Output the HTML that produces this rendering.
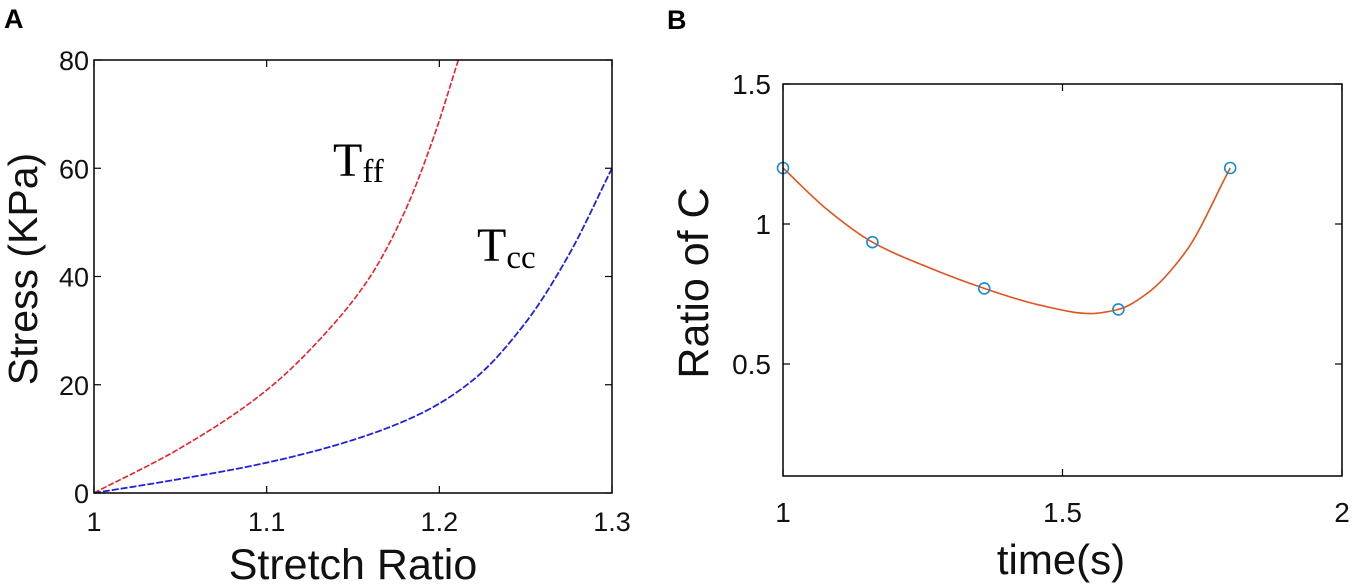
<!DOCTYPE html>
<html><head><meta charset="utf-8"><style>
html,body{margin:0;padding:0;background:#fff;}
svg{display:block;font-family:"Liberation Sans",Arial,sans-serif;}
</style></head><body>
<svg id="fig" width="1355" height="588" viewBox="0 0 1355 588">
<g id="A"></g>
<g id="B"></g>
</svg>
<script>
// Panel A data
const aXTicks = [1, 1.1, 1.2, 1.3];
const aYTicks = [0, 20, 40, 60, 80];
const tffX = [1, 1.05, 1.1, 1.134, 1.16, 1.18, 1.197, 1.211];
const tffY = [0, 8.3, 19, 29.5, 40, 52, 66, 80];
const tccX = [1, 1.05, 1.1, 1.15, 1.19, 1.22, 1.25, 1.275, 1.3];
const tccY = [0, 2.6, 5.6, 9.8, 14.8, 21, 31.5, 44, 60];
// Panel B data
const bXTicks = [1, 1.5, 2];
const bYTicks = [0.5, 1, 1.5];
const bPtsX = [1, 1.16, 1.36, 1.6, 1.8];
const bPtsY = [1.2, 0.935, 0.77, 0.695, 1.2];
const bCurveX = [1, 1.08, 1.16, 1.26, 1.36, 1.46, 1.55, 1.6, 1.65, 1.72, 1.8];
const bCurveY = [1.2, 1.05, 0.935, 0.845, 0.77, 0.71, 0.68, 0.695, 0.75, 0.9, 1.2];

const NS = 'http://www.w3.org/2000/svg';
function mk(parent, tag, attrs, text){
  const e = document.createElementNS(NS, tag);
  for (const k in attrs) e.setAttribute(k, attrs[k]);
  if (text !== undefined) e.textContent = text;
  parent.appendChild(e);
  return e;
}
function lin(d0,d1,r0,r1){return v=>r0+(v-d0)/(d1-d0)*(r1-r0);}
function pathFrom(xs, ys, sx, sy){
  const X = xs.map(sx), Y = ys.map(sy), n = X.length;
  const d = [], m = new Array(n);
  for(let i=0;i<n-1;i++) d.push((Y[i+1]-Y[i])/(X[i+1]-X[i]));
  m[0]=d[0]; m[n-1]=d[n-2];
  for(let i=1;i<n-1;i++){
    if(d[i-1]*d[i]<=0) m[i]=0;
    else { const w1=2*(X[i+1]-X[i])+(X[i]-X[i-1]), w2=(X[i+1]-X[i])+2*(X[i]-X[i-1]);
      m[i]=(w1+w2)/(w1/d[i-1]+w2/d[i]); }
  }
  let p='M'+X[0]+','+Y[0];
  for(let i=0;i<n-1;i++){
    const h=(X[i+1]-X[i])/3;
    p+=' C'+(X[i]+h)+','+(Y[i]+m[i]*h)+' '+(X[i+1]-h)+','+(Y[i+1]-m[i+1]*h)+' '+X[i+1]+','+Y[i+1];
  }
  return p;
}

// ---- Panel A ----
const A = document.getElementById('A');
const ax = lin(1, 1.3, 94, 612), ay = lin(0, 80, 493, 60);
let t = mk(A,'text',{x:4,y:28,'font-size':27,'font-weight':'bold'},'A');
 
aXTicks.forEach(v=>{
  const l = mk(A,'line',{x1:ax(v),x2:ax(v),y1:493,y2:486,stroke:'#000','stroke-width':1.2});
   
  mk(A,'line',{x1:ax(v),x2:ax(v),y1:60,y2:67,stroke:'#000','stroke-width':1.2});
  const tx = mk(A,'text',{x:ax(v),y:531,'font-size':27,'text-anchor':'middle',fill:'#111'},String(v));
   
});
aYTicks.forEach(v=>{
  const l = mk(A,'line',{x1:94,x2:101,y1:ay(v),y2:ay(v),stroke:'#000','stroke-width':1.2});
   
  mk(A,'line',{x1:612,x2:605,y1:ay(v),y2:ay(v),stroke:'#000','stroke-width':1.2});
  const tx = mk(A,'text',{x:89,y:ay(v)+10,'font-size':27,'text-anchor':'end',fill:'#111'},String(v));
   
});
const tff = mk(A,'path',{d:pathFrom(tffX,tffY,ax,ay),fill:'none',stroke:'#e8202a','stroke-width':1.6,'stroke-dasharray':'6 2'});
 
const tcc = mk(A,'path',{d:pathFrom(tccX,tccY,ax,ay),fill:'none',stroke:'#2020e0','stroke-width':1.8,'stroke-dasharray':'7 2'});
 
const boxA = mk(A,'rect',{x:94,y:60,width:518,height:433,fill:'none',stroke:'#000','stroke-width':1.5});
 
t = mk(A,'text',{x:333,y:176,'font-size':48,'font-family':'"Liberation Serif",serif'});
 
mk(t,'tspan',{},'T'); mk(t,'tspan',{'font-size':33,dy:6},'ff');
t = mk(A,'text',{x:477,y:261,'font-size':48,'font-family':'"Liberation Serif",serif'});
 
mk(t,'tspan',{},'T'); mk(t,'tspan',{'font-size':33,dy:7},'cc');
t = mk(A,'text',{x:353,y:579,'font-size':43,'text-anchor':'middle',fill:'#111'},'Stretch Ratio');
 
t = mk(A,'text',{x:0,y:0,'font-size':41,'text-anchor':'middle',fill:'#111',transform:'translate(37,269) rotate(-90)'},'Stress (KPa)');
 

// ---- Panel B ----
const B = document.getElementById('B');
const bx = lin(1, 2, 783, 1342), by = lin(0.1, 1.5, 476, 84);
t = mk(B,'text',{x:667,y:29,'font-size':27,'font-weight':'bold'},'B');
 
bXTicks.forEach(v=>{
  const l = mk(B,'line',{x1:bx(v),x2:bx(v),y1:476,y2:469,stroke:'#000','stroke-width':1.2});
   
  mk(B,'line',{x1:bx(v),x2:bx(v),y1:84,y2:91,stroke:'#000','stroke-width':1.2});
  const tx = mk(B,'text',{x:bx(v),y:522,'font-size':28,'text-anchor':'middle',fill:'#111'},String(v));
   
});
bYTicks.forEach(v=>{
  const l = mk(B,'line',{x1:783,x2:790,y1:by(v),y2:by(v),stroke:'#000','stroke-width':1.2});
   
  mk(B,'line',{x1:1342,x2:1335,y1:by(v),y2:by(v),stroke:'#000','stroke-width':1.2});
  const tx = mk(B,'text',{x:771,y:by(v)+10,'font-size':28,'text-anchor':'end',fill:'#111'},String(v));
   
});
const fit = mk(B,'path',{d:pathFrom(bCurveX,bCurveY,bx,by),fill:'none',stroke:'#e0531f','stroke-width':1.6});
 
bPtsX.forEach((x,i)=>{
  const c = mk(B,'circle',{cx:bx(x),cy:by(bPtsY[i]),r:5.5,fill:'none',stroke:'#1a8ad4','stroke-width':1.6});
   
});
const boxB = mk(B,'rect',{x:783,y:84,width:559,height:392,fill:'none',stroke:'#000','stroke-width':1.5});
 
t = mk(B,'text',{x:1061,y:574,'font-size':42,'text-anchor':'middle',fill:'#111'},'time(s)');
 
t = mk(B,'text',{x:0,y:0,'font-size':43,'text-anchor':'middle',fill:'#111',transform:'translate(708,283) rotate(-90)'},'Ratio of C');
 
</script>
</body></html>
